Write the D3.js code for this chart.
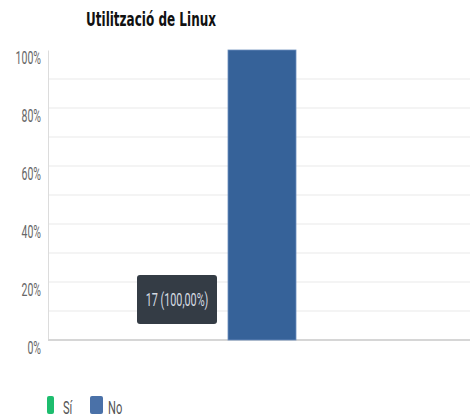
<!DOCTYPE html>
<html><head><meta charset="utf-8">
<script src="https://cdn.jsdelivr.net/npm/d3@7"></script>
<style>html,body{margin:0;padding:0;background:#fff;}svg{display:block;}</style>
</head><body>
<svg id="c" width="470" height="419"></svg>
<script>
const title = "Utilització de Linux";
const series = ["Sí", "No"];
const counts = [0, 17];
const colors = ["#1dbd6e", "#4a71a8"];
const barColor = "#366299";
const yTicks = [0, 0.2, 0.4, 0.6, 0.8, 1.0];
const gridTicks = [0.1,0.2,0.3,0.4,0.5,0.6,0.7,0.8,0.9];

(function () {
const SX = 0.6; // horizontal text compression seen in reference
const svg = d3.select("#c");
const total = d3.sum(counts);
const pct = counts.map(c => c / total);

const mL = 48, mR = 470, mT = 50, mB = 340;
const y = d3.scaleLinear().domain([0, 1]).range([mB, mT]);
const x = d3.scaleBand().domain(series).range([160, 296]).padding(0);

function sText(g, x0, y0, txt, anchor) {
  return g.append("text").attr("transform", `translate(${x0},${y0}) scale(${SX},1)`)
    .attr("text-anchor", anchor || "start").text(txt);
}

// title
svg.append("text").attr("x", 86).attr("y", 26)
  .attr("font-family", "DejaVu Sans").attr("font-weight", "bold").attr("font-size", 19)
  .attr("fill", "#111").attr("textLength", 130).attr("lengthAdjust", "spacingAndGlyphs").text(title);

// grid
svg.append("g").selectAll("line").data(gridTicks).join("line")
  .attr("x1", mL).attr("x2", mR).attr("y1", d => y(d)).attr("y2", d => y(d))
  .attr("stroke", "#f1f1f1").attr("stroke-width", 1.5);

// y axis
const yAxis = svg.append("g").attr("transform", `translate(${mL},0)`)
  .call(d3.axisLeft(y).tickValues(yTicks).tickSize(0).tickFormat(d3.format(".0%")));
yAxis.select(".domain").attr("stroke", "#dcdcdc").attr("stroke-width", 1);
yAxis.selectAll(".tick text")
  .attr("x", 0).attr("dy", null).attr("y", 13)
  .attr("transform", `translate(-7,0) scale(${SX},1)`)
  .attr("font-family", "Roboto").attr("font-size", 17.5).attr("fill", "#666");

// bottom axis line
svg.append("line").attr("x1", mL).attr("x2", mR).attr("y1", mB).attr("y2", mB)
  .attr("stroke", "#d6d6d6").attr("stroke-width", 2);

// bars
svg.append("g").selectAll("rect").data(series).join("rect")
  .attr("x", d => x(d)).attr("width", x.bandwidth())
  .attr("y", (d, i) => y(pct[i])).attr("height", (d, i) => y(0) - y(pct[i]))
  .attr("fill", barColor).attr("stroke", "#6d8fbd").attr("stroke-width", 0.8);

// tooltip
const idx = 1;
const tipR = x(series[idx]) - 11, tipW = 80, tipH = 49, tipB = y(0) - 16;
const tip = svg.append("g");
tip.append("rect").attr("x", tipR - tipW).attr("y", tipB - tipH).attr("width", tipW).attr("height", tipH)
  .attr("rx", 3).attr("fill", "#343c45");
const fmt = v => d3.format(".2f")(v * 100).replace(".", ",");
sText(tip, tipR - tipW / 2, tipB - tipH / 2 + 6, `${counts[idx]} (${fmt(pct[idx])}%)`, "middle")
  .attr("font-family", "Roboto").attr("font-size", 18).attr("fill", "#d5dbe2");

// legend
const leg = [{x: 47, w: 7, tx: 63}, {x: 90, w: 13, tx: 108}];
series.forEach((s, i) => {
  svg.append("rect").attr("x", leg[i].x).attr("y", 396).attr("width", leg[i].w).attr("height", 18)
    .attr("rx", 2).attr("fill", colors[i]);
  sText(svg, leg[i].tx, 414, s).attr("font-family", "Roboto").attr("font-size", 18.5).attr("fill", "#555");
});
})();
</script>
</body></html>
